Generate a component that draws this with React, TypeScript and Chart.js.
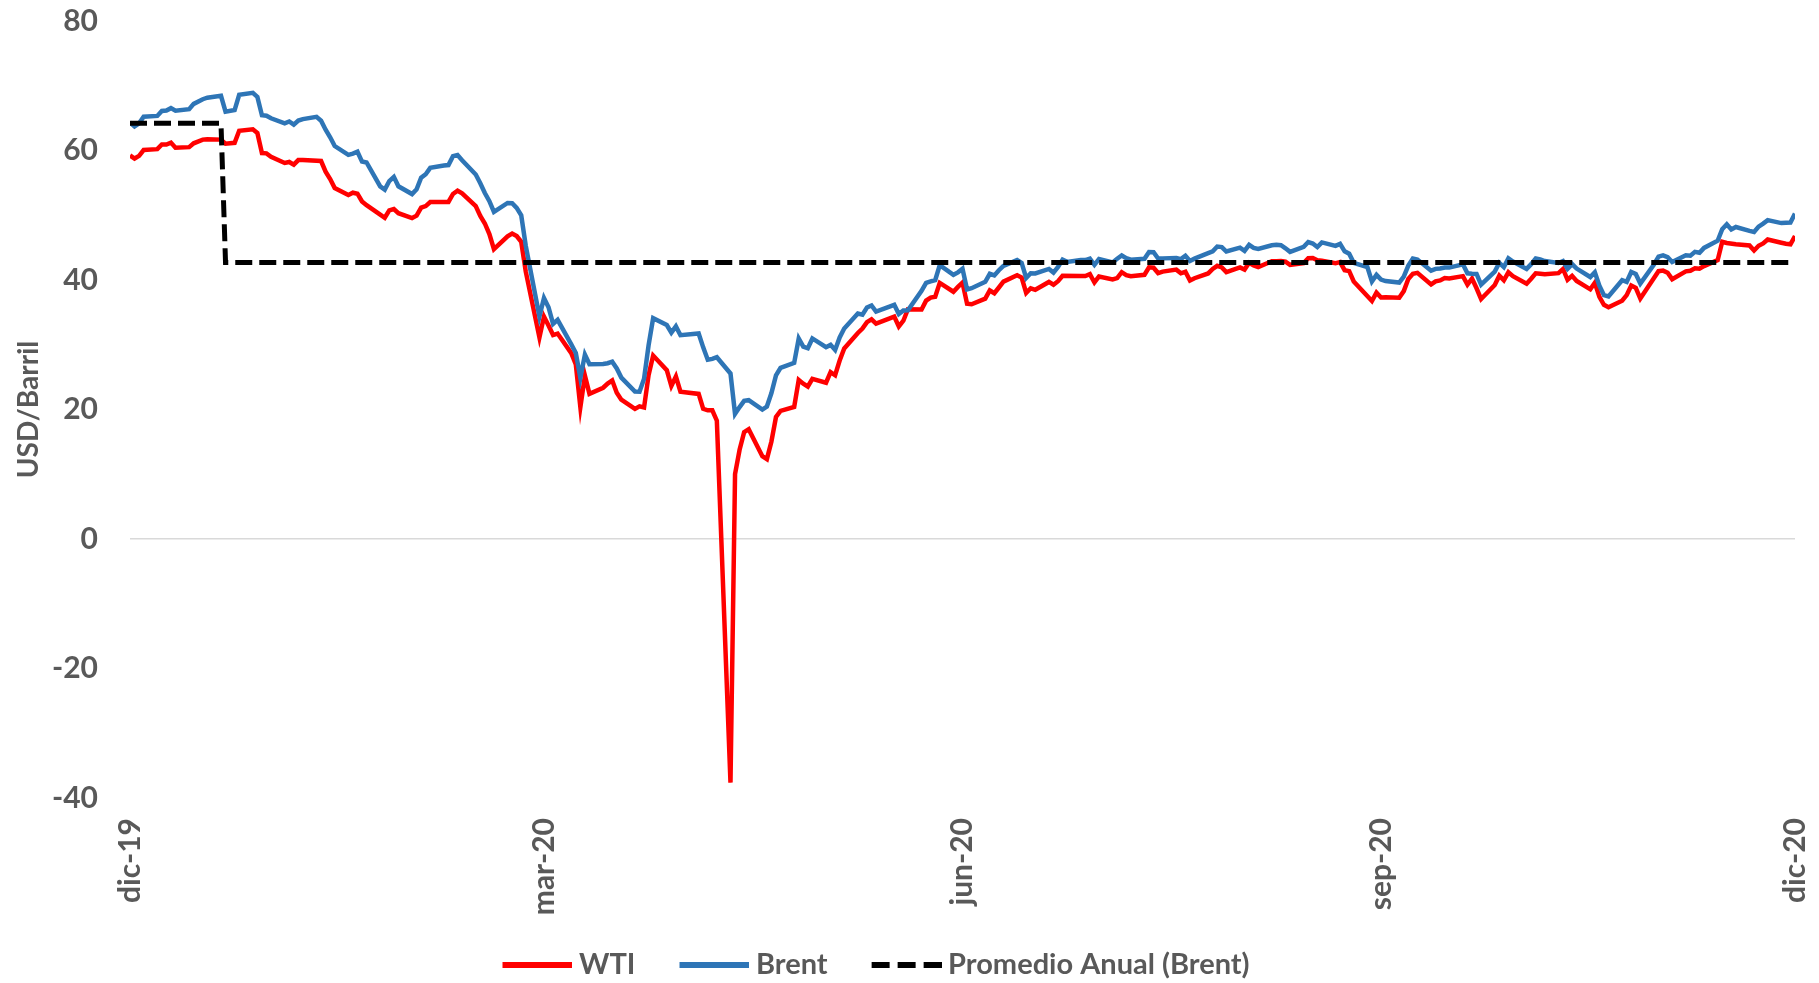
import { useEffect, useRef } from "react";
import { Chart, registerables } from "chart.js";

Chart.register(...registerables);

// Trading days (Mon–Fri) from START_DATE to END_DATE; null = market holiday
const START_DATE = "2019-12-10";
const END_DATE = "2020-12-10";

const seriesLabels = ["WTI", "Brent", "Promedio Anual (Brent)"];

// WTI, USD/barril (one row per week, Mon..Fri)
const wtiValues: (number | null)[] = [
  59.24, 58.76, 59.18, 60.07,
  60.21, 60.94, 60.93, 61.22, 60.44,
  60.52, 61.11, null, 61.68, 61.72,
  61.68, 61.06, null, 61.18, 63.05,
  63.27, 62.70, 59.61, 59.56, 59.04,
  58.08, 58.23, 57.81, 58.52, 58.54,
  null, 58.38, 56.74, 55.59, 54.19,
  53.14, 53.48, 53.33, 52.14, 51.56,
  50.11, 49.61, 50.75, 50.95, 50.32,
  49.57, 49.94, 51.17, 51.42, 52.05,
  null, 52.05, 53.29, 53.78, 53.38,
  51.43, 49.90, 48.73, 47.09, 44.76,
  46.75, 47.18, 46.78, 45.90, 41.28,
  31.13, 34.36, 32.98, 31.50, 31.73,
  28.70, 26.95, 20.37, 25.22, 22.43,
  23.36, 24.01, 24.49, 22.60, 21.51,
  20.09, 20.48, 20.31, 25.32, 28.34,
  26.08, 23.63, 25.09, 22.76, null,
  22.41, 20.11, 19.87, 19.87, 18.27,
  -37.63, 10.01, 13.78, 16.50, 16.94,
  12.78, 12.34, 15.06, 18.84, 19.78,
  20.39, 24.56, 23.99, 23.55, 24.74,
  24.14, 25.78, 25.29, 27.56, 29.43,
  31.82, 32.50, 33.49, 33.92, 33.25,
  null, 34.35, 32.81, 33.71, 35.49,
  35.44, 36.81, 37.29, 37.41, 39.55,
  38.19, 38.94, 39.60, 36.34, 36.26,
  37.12, 38.38, 37.96, 38.84, 39.75,
  40.73, 40.37, 38.01, 38.72, 38.49,
  39.70, 39.27, 39.82, 40.65, null,
  40.63, 40.62, 40.90, 39.62, 40.55,
  40.10, 40.29, 41.20, 40.75, 40.59,
  40.81, 41.96, 41.90, 41.07, 41.29,
  41.60, 41.04, 41.27, 39.92, 40.27,
  41.01, 41.70, 42.19, 41.95, 41.22,
  41.94, 41.61, 42.67, 42.24, 42.01,
  42.89, 42.89, 42.93, 42.82, 42.34,
  42.62, 43.35, 43.39, 43.04, 42.97,
  42.61, 42.76, 41.51, 41.37, 39.77,
  null, 36.76, 38.05, 37.30, 37.33,
  37.26, 38.28, 40.16, 40.97, 41.11,
  39.31, 39.80, 39.93, 40.31, 40.25,
  40.60, 39.29, 40.22, 38.72, 37.05,
  39.22, 40.67, 39.95, 41.19, 40.60,
  39.43, 40.20, 41.04, 40.96, 40.88,
  41.06, 41.70, 40.03, 40.64, 39.85,
  38.56, 39.57, 37.39, 36.17, 35.79,
  36.81, 37.66, 39.15, 38.79, 37.14,
  40.29, 41.36, 41.45, 41.12, 40.13,
  41.34, 41.43, 41.82, 41.74, 42.15,
  43.06, 45.91, 45.71, null, 45.53,
  45.34, 44.55, 45.28, 45.64, 46.26,
  45.76, 45.60, 45.52, 46.78,
];

// Brent, USD/barril
const brentValues: (number | null)[] = [
  64.34, 63.72, 64.20, 65.22,
  65.34, 66.10, 66.17, 66.54, 66.14,
  66.39, 67.20, null, 67.92, 68.16,
  68.44, 66.00, null, 66.25, 68.60,
  68.91, 68.27, 65.44, 65.37, 64.98,
  64.20, 64.49, 64.00, 64.62, 64.85,
  65.20, 64.59, 63.21, 62.04, 60.69,
  59.32, 59.51, 59.81, 58.29, 58.16,
  54.45, 53.96, 55.28, 55.93, 54.47,
  53.27, 54.01, 55.79, 56.34, 57.32,
  57.67, 57.75, 59.12, 59.31, 58.50,
  56.30, 54.95, 53.43, 52.18, 50.52,
  51.90, 51.86, 51.13, 49.99, 45.27,
  34.36, 37.22, 35.79, 33.22, 33.85,
  30.05, 28.73, 24.88, 28.47, 26.98,
  27.03, 27.15, 27.39, 26.34, 24.93,
  22.76, 22.74, 24.74, 29.94, 34.11,
  33.05, 31.87, 32.84, 31.48, null,
  31.74, 29.60, 27.69, 27.82, 28.08,
  25.57, 19.33, 20.37, 21.33, 21.44,
  19.99, 20.46, 22.54, 25.27, 26.44,
  27.20, 30.97, 29.72, 29.46, 30.97,
  29.63, 29.98, 29.19, 31.13, 32.50,
  34.81, 34.65, 35.75, 36.06, 35.13,
  null, 36.17, 34.74, 35.29, 35.33,
  38.32, 39.57, 39.79, 39.99, 42.30,
  40.80, 41.18, 41.73, 38.55, 38.73,
  39.72, 40.96, 40.71, 41.51, 42.19,
  43.08, 42.63, 40.31, 41.05, 41.02,
  41.71, 41.15, 42.03, 43.14, 42.80,
  43.10, 43.08, 43.29, 42.35, 43.24,
  42.72, 43.29, 43.79, 43.37, 43.14,
  43.28, 44.32, 44.29, 43.31, 43.34,
  43.41, 43.22, 43.75, 42.94, 43.30,
  44.15, 44.43, 45.17, 45.09, 44.40,
  44.99, 44.50, 45.43, 44.96, 44.80,
  45.37, 45.46, 45.37, 44.90, 44.35,
  45.13, 45.86, 45.64, 45.09, 45.81,
  45.28, 45.58, 44.43, 44.07, 42.66,
  42.01, 39.78, 40.79, 40.06, 39.83,
  39.61, 40.53, 42.22, 43.30, 43.15,
  41.44, 41.72, 41.77, 41.94, 41.92,
  42.43, 41.03, 40.95, 40.93, 39.27,
  41.29, 42.65, 41.99, 43.34, 42.85,
  41.72, 42.45, 43.32, 43.16, 42.93,
  42.62, 42.92, 41.73, 42.46, 41.77,
  40.46, 41.20, 39.12, 37.65, 37.46,
  39.97, 39.71, 41.23, 40.93, 39.45,
  42.40, 43.61, 43.80, 43.53, 42.78,
  43.82, 43.75, 44.34, 44.20, 44.96,
  46.06, 47.86, 48.61, 47.80, 48.18,
  47.59, 47.42, 48.25, 48.71, 49.25,
  48.79, 48.84, 48.86, 50.25,
];

// Annual Brent average (step line)
const avgDates = ["2019-12-10", "2019-12-30", "2019-12-31", "2020-12-10"];
const avgValues = [64.2, 64.2, 42.7, 42.7];

const xTickDates = ["2019-12-10", "2020-03-10", "2020-06-10", "2020-09-10", "2020-12-10"];
const xTickLabels = ["dic-19", "mar-20", "jun-20", "sep-20", "dic-20"];

const Y_MIN = -40;
const Y_MAX = 80;
const Y_STEP = 20;
const Y_TITLE = "USD/Barril";

const FONT = "Lato, 'Open Sans', sans-serif";
const TEXT_COLOR = "#595959";
const WTI_COLOR = "#FF0000";
const BRENT_COLOR = "#2E75B6";
const AVG_COLOR = "#000000";
const AVG_DASH = [17, 7];
const AVG_LEGEND_DASH = [18, 8];

// Target layout (px)
const AREA_TOP = 21;
const AREA_RIGHT = 1795;
const AREA_BOTTOM = 798;
const AREA_LEFT = 130;
const LEGEND_CX = 876;
const LEGEND_CY = 965;
// legend sample geometry: spacer before the line, the line itself
const LEG_SPACER = 34;
const LEG_LINE = 70;
const LEG_BOX = 96; // pointStyleWidth
const LEG_CANVAS = 112;

const ts = (s: string) => {
  const [y, m, d] = s.split("-").map(Number);
  return Date.UTC(y, m - 1, d);
};

function tradingDays(start: string, end: string): number[] {
  const out: number[] = [];
  const DAY = 86400000;
  for (let t = ts(start); t <= ts(end); t += DAY) {
    const wd = new Date(t).getUTCDay();
    if (wd !== 0 && wd !== 6) out.push(t);
  }
  return out;
}

// Legend sample image: centred on the legend box; the line sits at the right part
function makeSample(color: string, width: number, dash: number[]) {
  const c = document.createElement("canvas");
  c.width = LEG_CANVAS;
  c.height = 10;
  const g = c.getContext("2d")!;
  g.strokeStyle = color;
  g.lineWidth = width;
  g.lineCap = "butt";
  g.setLineDash(dash);
  g.beginPath();
  const start = LEG_CANVAS / 2 - LEG_BOX / 2 + LEG_SPACER;
  g.moveTo(start, 5);
  g.lineTo(start + LEG_LINE, 5);
  g.stroke();
  return c;
}

const legendShift = {
  id: "legendShift",
  afterUpdate(chart: any) {
    const lg = chart.legend;
    if (!lg || !lg.legendHitBoxes || !lg.legendHitBoxes.length) return;
    const hb = lg.legendHitBoxes;
    const first = hb[0];
    const last = hb[hb.length - 1];
    const cx = (first.left + LEG_SPACER + last.left + last.width) / 2;
    const cy = first.top + first.height / 2;
    const dx = LEGEND_CX - cx;
    const dy = LEGEND_CY - cy;
    lg.left += dx;
    lg.right += dx;
    lg.top += dy;
    lg.bottom += dy;
  },
};

export default function App() {
  const ref = useRef<HTMLCanvasElement | null>(null);

  useEffect(() => {
    document.body.style.margin = "0";
    const canvas = ref.current;
    if (!canvas) return;
    const days = tradingDays(START_DATE, END_DATE);
    const toPts = (vals: (number | null)[]) =>
      days.slice(0, vals.length).map((t, i) => ({ x: t, y: vals[i] }));

    const layout: any = {
      padding: { top: AREA_TOP, right: 1819 - AREA_RIGHT, left: 0, bottom: 0 },
    };
    let xAxisH = 130;

    const chart = new Chart(canvas, {
      type: "line",
      data: {
        datasets: [
          {
            label: seriesLabels[0],
            data: toPts(wtiValues) as any,
            borderColor: WTI_COLOR,
            backgroundColor: WTI_COLOR,
            borderWidth: 4.5,
            pointRadius: 0,
            pointStyle: makeSample(WTI_COLOR, 6, []) as any,
            tension: 0,
            spanGaps: true,
            order: 3,
          },
          {
            label: seriesLabels[1],
            data: toPts(brentValues) as any,
            borderColor: BRENT_COLOR,
            backgroundColor: BRENT_COLOR,
            borderWidth: 4.5,
            pointRadius: 0,
            pointStyle: makeSample(BRENT_COLOR, 6, []) as any,
            tension: 0,
            spanGaps: true,
            order: 2,
          },
          {
            label: seriesLabels[2],
            data: avgDates.map((d, i) => ({ x: ts(d), y: avgValues[i] })) as any,
            borderColor: AVG_COLOR,
            backgroundColor: AVG_COLOR,
            borderWidth: 5,
            borderDash: AVG_DASH,
            borderCapStyle: "butt",
            pointRadius: 0,
            pointStyle: makeSample(AVG_COLOR, 6, AVG_LEGEND_DASH) as any,
            tension: 0,
            order: 1,
          },
        ],
      },
      options: {
        animation: false,
        responsive: true,
        maintainAspectRatio: false,
        layout,
        plugins: {
          tooltip: { enabled: false },
          legend: {
            position: "bottom",
            labels: {
              usePointStyle: true,
              pointStyleWidth: LEG_BOX,
              padding: 10,
              color: TEXT_COLOR,
              font: { family: FONT, size: 29, weight: "bold" },
              sort: (a: any, b: any) => a.datasetIndex - b.datasetIndex,
            },
          },
        },
        scales: {
          x: {
            type: "linear",
            min: ts(START_DATE),
            max: ts(END_DATE),
            grid: { display: false, drawTicks: false },
            border: { display: false },
            afterBuildTicks: (scale: any) => {
              scale.ticks = xTickDates.map((d) => ({ value: ts(d) }));
            },
            afterFit: (scale: any) => {
              scale.height = xAxisH;
              scale.paddingLeft = 0;
              scale.paddingRight = 0;
            },
            ticks: {
              autoSkip: false,
              minRotation: 90,
              maxRotation: 90,
              padding: 20,
              color: TEXT_COLOR,
              font: { family: FONT, size: 30, weight: "bold" },
              callback: (_v: any, i: number) => xTickLabels[i],
            },
          },
          y: {
            min: Y_MIN,
            max: Y_MAX,
            border: { display: false },
            grid: {
              drawTicks: false,
              lineWidth: 1.5,
              color: (ctx: any) => (ctx.tick && ctx.tick.value === 0 ? "#D9D9D9" : "rgba(0,0,0,0)"),
            },
            afterFit: (scale: any) => {
              scale.width = AREA_LEFT;
              scale.paddingTop = 0;
              scale.paddingBottom = 0;
            },
            ticks: {
              stepSize: Y_STEP,
              padding: 32,
              color: TEXT_COLOR,
              font: { family: FONT, size: 30, weight: "bold" },
            },
            title: {
              display: true,
              text: Y_TITLE,
              color: TEXT_COLOR,
              padding: { top: 12, bottom: 0 },
              font: { family: FONT, size: 28, weight: "bold" },
            },
          },
        },
      },
      plugins: [legendShift],
    });

    // Correct the layout so the plot area lands where the reference has it
    for (let k = 0; k < 4; k++) {
      const ca = chart.chartArea;
      const dTop = AREA_TOP - ca.top;
      const dRight = ca.right - AREA_RIGHT;
      const dBottom = ca.bottom - AREA_BOTTOM;
      if (Math.abs(dTop) < 0.5 && Math.abs(dRight) < 0.5 && Math.abs(dBottom) < 0.5) break;
      layout.padding.top = Math.max(0, layout.padding.top + dTop);
      layout.padding.right = Math.max(0, layout.padding.right + dRight);
      xAxisH = Math.max(120, xAxisH + dBottom);
      (chart.options as any).layout = layout;
      chart.update();
    }

    return () => chart.destroy();
  }, []);

  return (
    <div style={{ position: "relative", width: 1819, height: 983 }}>
      <canvas ref={ref} />
    </div>
  );
}
